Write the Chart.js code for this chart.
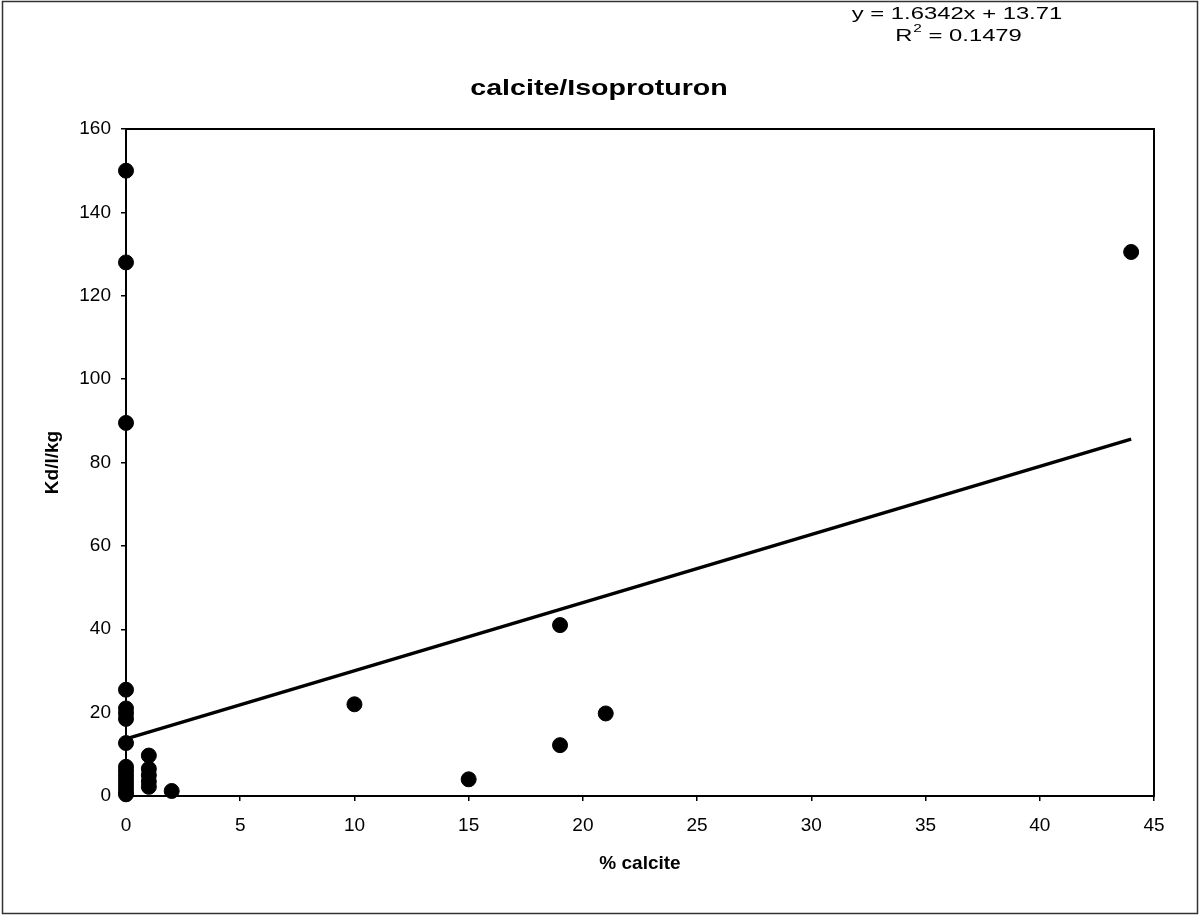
<!DOCTYPE html>
<html>
<head>
<meta charset="utf-8">
<title>calcite/Isoproturon</title>
<script src="https://cdn.jsdelivr.net/npm/chart.js@4/dist/chart.umd.min.js"></script>
<style>
    html, body { margin: 0; padding: 0; background: #fff; }
    #wrap { width: 1203px; height: 915px; position: relative; }
</style>
</head>
<body>
<div id="wrap"><canvas id="calciteChart" width="1203" height="915"></canvas></div>
<script>
// ============================================
// 1. DATA
// ============================================
const calcitePct = [0, 0, 0, 0, 0, 0, 0, 0, 0, 0, 0, 0, 0, 0, 0, 0,
                    1, 1, 1, 1, 1, 2, 10, 15, 19, 19, 21, 44];
const kdValues   = [150, 128, 89.5, 25.5, 21, 19.8, 18.5, 12.7, 7, 6, 5, 4, 3, 2, 1, 0.4,
                    9.7, 6.5, 5, 3.5, 2.2, 1.2, 22, 4, 41, 12.2, 19.8, 130.5];

// Excel trendline, as printed on the chart
const trendSlope = 1.6342;
const trendIntercept = 13.71;
const trendRange = [0, 44];
const equationText = 'y = 1.6342x + 13.71';
const rSquaredParts = ['R', '2', ' = 0.1479'];

const xTicks = [0, 5, 10, 15, 20, 25, 30, 35, 40, 45];
const yTicks = [0, 20, 40, 60, 80, 100, 120, 140, 160];

const chartTitle = 'calcite/Isoproturon';
const xAxisTitle = '% calcite';
const yAxisTitle = 'Kd/l/kg';

const FONT = "'Liberation Sans', Arial, sans-serif";

// the scan is a bit stretched sideways, so free text gets a horizontal squash factor
function stretchedText(ctx, text, cx, cy, font, sx, align) {
    ctx.save();
    ctx.font = font;
    ctx.textAlign = align || 'center';
    ctx.textBaseline = 'middle';
    ctx.translate(cx, cy);
    ctx.scale(sx, 1);
    ctx.fillText(text, 0, 0);
    ctx.restore();
}

// ============================================
// 2. FRAME, TITLE AND EQUATION PLUGIN
// ============================================
const decorPlugin = {
    id: 'decor',
    afterDraw(chart) {
        const ctx = chart.ctx;
        const a = chart.chartArea;
        ctx.save();

        // outer frame of the pasted figure
        ctx.strokeStyle = '#333';
        ctx.lineWidth = 1.5;
        ctx.strokeRect(2.5, 1.5, 1195, 912);

        // plot box
        ctx.strokeStyle = '#000';
        ctx.lineWidth = 2;
        ctx.strokeRect(a.left, a.top, a.right - a.left, a.bottom - a.top);
        ctx.fillStyle = '#000';

        // chart title
        stretchedText(ctx, chartTitle, 599, 89, 'bold 22px ' + FONT, 1.3);

        // trendline equation + R squared
        const sx = 1.4;
        stretchedText(ctx, equationText, 957, 14, '17px ' + FONT, sx);

        ctx.font = '17px ' + FONT;
        const wR = ctx.measureText(rSquaredParts[0]).width * sx;
        const wRest = ctx.measureText(rSquaredParts[2]).width * sx;
        ctx.font = '11px ' + FONT;
        const wSup = ctx.measureText(rSquaredParts[1]).width * sx;
        const x0 = 958 - (wR + wSup + wRest) / 2;
        stretchedText(ctx, rSquaredParts[0], x0, 36, '17px ' + FONT, sx, 'left');
        stretchedText(ctx, rSquaredParts[1], x0 + wR + 1, 29, '11px ' + FONT, sx, 'left');
        stretchedText(ctx, rSquaredParts[2], x0 + wR + wSup + 1, 36, '17px ' + FONT, sx, 'left');

        ctx.restore();
    }
};

// ============================================
// 3. CHART
// ============================================
const points = calcitePct.map((x, i) => ({ x: x, y: kdValues[i] }));
const trendPoints = trendRange.map(x => ({ x: x, y: trendSlope * x + trendIntercept }));

const ctx = document.getElementById('calciteChart').getContext('2d');
new Chart(ctx, {
    type: 'scatter',
    data: {
        datasets: [
            {
                label: 'Kd',
                data: points,
                backgroundColor: '#000',
                borderColor: '#000',
                pointRadius: 7.5,
                pointHoverRadius: 7.5,
                clip: false,
                order: 1
            },
            {
                type: 'line',
                label: 'Linear trend',
                data: trendPoints,
                borderColor: '#000',
                borderWidth: 3.5,
                pointRadius: 0,
                fill: false,
                clip: false,
                order: 2
            }
        ]
    },
    options: {
        responsive: false,
        animation: false,
        layout: { padding: { top: 129, right: 49, left: 0, bottom: 0 } },
        plugins: {
            legend: { display: false },
            tooltip: { enabled: false }
        },
        scales: {
            x: {
                type: 'linear',
                min: xTicks[0],
                max: xTicks[xTicks.length - 1],
                afterBuildTicks: s => { s.ticks = xTicks.map(v => ({ value: v })); },
                afterFit: s => { s.height = 119; },
                grid: { drawOnChartArea: false, drawTicks: true, tickLength: 5, color: '#000', lineWidth: 1.5 },
                border: { display: true, color: '#000', width: 2 },
                ticks: { color: '#000', padding: 13, font: { family: FONT, size: 19 } },
                title: {
                    display: true,
                    text: xAxisTitle,
                    color: '#000',
                    font: { family: FONT, size: 19, weight: 'bold' },
                    padding: { top: 0, bottom: 40 }
                }
            },
            y: {
                type: 'linear',
                min: yTicks[0],
                max: yTicks[yTicks.length - 1],
                afterBuildTicks: s => { s.ticks = yTicks.map(v => ({ value: v })); },
                afterFit: s => { s.width = 126; },
                grid: { drawOnChartArea: false, drawTicks: true, tickLength: 5, color: '#000', lineWidth: 1.5 },
                border: { display: true, color: '#000', width: 2 },
                ticks: { color: '#000', padding: 10, font: { family: FONT, size: 19 } },
                title: {
                    display: true,
                    text: yAxisTitle,
                    color: '#000',
                    font: { family: FONT, size: 19, weight: 'bold' },
                    padding: { top: 41, bottom: 0 }
                }
            }
        }
    },
    plugins: [decorPlugin]
});
</script>
</body>
</html>
